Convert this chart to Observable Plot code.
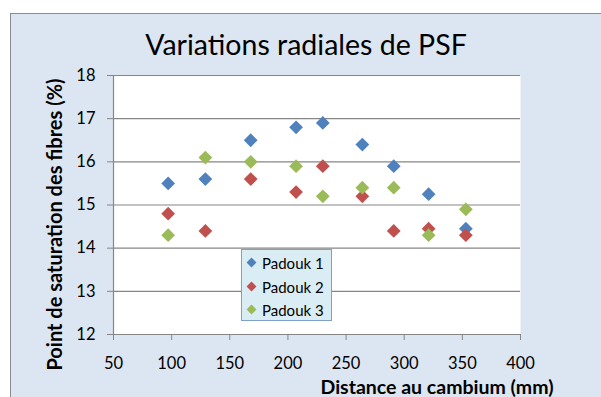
<!DOCTYPE html>
<html>
<head>
<meta charset="utf-8">
<script src="https://cdn.jsdelivr.net/npm/d3@7"></script>
<script src="https://cdn.jsdelivr.net/npm/@observablehq/plot@0.6"></script>
<style>
  html, body { margin: 0; padding: 0; background: #ffffff; }
  #chart { position: relative; width: 601px; height: 397px; overflow: hidden; font-family: Lato, "Open Sans", sans-serif; }
  #panel { position: absolute; left: 10px; top: 13px; width: 620px; height: 420px;
           background: #dce6f2; border: 1.5px solid #8c8c8c; box-sizing: border-box; }
  #plot { position: absolute; left: 0; top: 0; }
  #legend { position: absolute; left: 241px; top: 249px; width: 91px; height: 72px; box-sizing: border-box;
            background: #dbedf4; border: 1.5px solid #7e9fd0; font-size: 15px; color: #000; }
  .item { position: absolute; left: 20px; height: 20px; line-height: 20px; white-space: nowrap; }
  .item i { position: absolute; left: -14px; top: 6px; width: 7px; height: 7px; transform: rotate(45deg); }
</style>
</head>
<body>
<div id="chart">
  <div id="panel"></div>
  <div id="plot"></div>
  <div id="legend"></div>
</div>
<script>
// Distance from the cambium (mm) of each sampling position
const distances = [97, 129, 168, 207, 230, 264, 291, 321, 353];
// Fibre saturation point (%) for the three padouk trees
const padouk1 = [15.5, 15.6, 16.5, 16.8, 16.9, 16.4, 15.9, 15.25, 14.45];
const padouk2 = [14.8, 14.4, 15.6, 15.3, 15.9, 15.2, 14.4, 14.45, 14.3];
const padouk3 = [14.3, 16.1, 16.0, 15.9, 15.2, 15.4, 15.4, 14.3, 14.9];
const seriesNames = ["Padouk 1", "Padouk 2", "Padouk 3"];
const seriesColors = ["#4f81bd", "#c0504d", "#9bbb59"];
const xTicks = [50, 100, 150, 200, 250, 300, 350, 400];
const yTicks = [12, 13, 14, 15, 16, 17, 18];
const title = "Variations radiales de PSF";
const xLabel = "Distance au cambium (mm)";
const yLabel = "Point de saturation des fibres (%)";

const seriesValues = [padouk1, padouk2, padouk3];
const rows = seriesValues.flatMap((vals, s) =>
  vals.map((v, i) => ({series: seriesNames[s], distance: distances[i], psf: v})));

const grey = "#868686";

const chart = Plot.plot({
  width: 601,
  height: 397,
  marginLeft: 113,
  marginRight: 81,
  marginTop: 75,
  marginBottom: 63,
  style: {background: "transparent", fontFamily: "Lato, 'Open Sans', sans-serif", color: "#000", overflow: "visible"},
  x: {domain: [50, 400]},
  y: {domain: [12, 18]},
  color: {domain: seriesNames, range: seriesColors},
  marks: [
    Plot.frame({fill: "white", stroke: null}),
    Plot.gridY(yTicks, {stroke: grey, strokeOpacity: 1, strokeWidth: 1.2}),
    Plot.ruleX([50], {stroke: grey, strokeWidth: 1.2}),
    Plot.axisX(xTicks, {tickSize: 6, tickPadding: 17, fontSize: 16.5, stroke: grey, fill: "#000", label: null}),
    Plot.axisY(yTicks, {tickSize: 6, tickPadding: 12, fontSize: 16.5, stroke: grey, fill: "#000", label: null}),
    Plot.dot(rows, {x: "distance", y: "psf", fill: "series", symbol: "diamond2", r: 6.2, stroke: null}),
    Plot.text([title], {frameAnchor: "top", dx: -11, dy: -21, lineAnchor: "bottom", fontSize: 28.5, fill: "#000"}),
    Plot.text([xLabel], {frameAnchor: "bottom", dx: 120, dy: 59, lineAnchor: "bottom", fontSize: 19.5, fontWeight: "bold", fill: "#000"}),
    Plot.text([yLabel], {frameAnchor: "left", textAnchor: "middle", rotate: -90, dx: -58, dy: 19.5, fontSize: 20, fontWeight: "bold", fill: "#000"})
  ]
});
document.getElementById("plot").appendChild(chart);

// Legend listing the three series
const legend = document.getElementById("legend");
seriesNames.forEach((name, i) => {
  const item = document.createElement("div");
  item.className = "item";
  item.style.top = (3 + i * 23.5) + "px";
  const mark = document.createElement("i");
  mark.style.background = seriesColors[i];
  item.appendChild(mark);
  item.appendChild(document.createTextNode(name));
  legend.appendChild(item);
});
</script>
</body>
</html>
